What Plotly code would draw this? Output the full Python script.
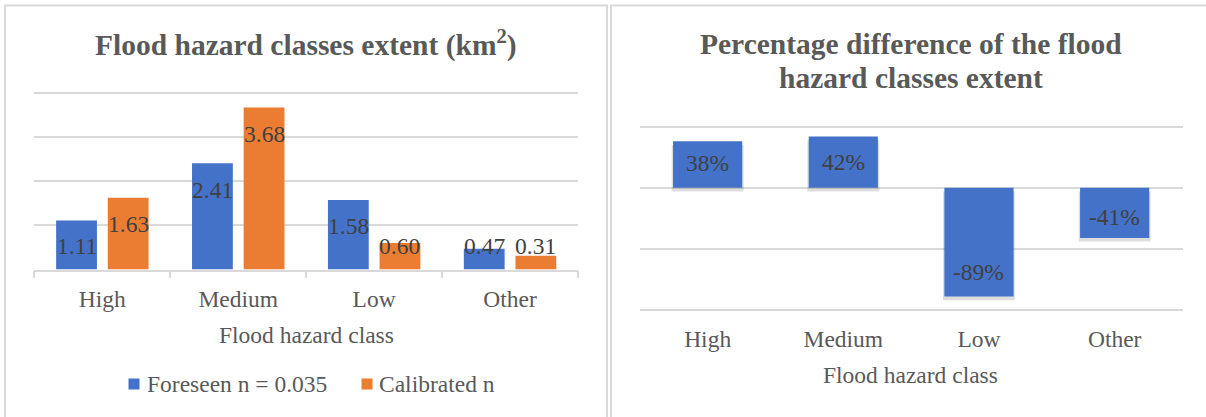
import plotly.graph_objects as go

# ---- data ----
classes = ["High", "Medium", "Low", "Other"]
foreseen = [1.11, 2.41, 1.58, 0.47]       # km², foreseen Manning n = 0.035
calibrated = [1.63, 3.68, 0.60, 0.31]     # km², calibrated Manning n
pct_diff = [0.38, 0.42, -0.89, -0.41]     # relative difference

series_names = ["Foreseen n = 0.035", "Calibrated n"]

# ---- style ----
W, H = 1206, 417
BLUE = "#4472c9"
ORANGE = "#eb7d33"
GRID = "#d9d9d9"
TXT = "#595959"
LBL = "#404040"
FONT = "Liberation Serif"
FS = 23.5          # body text size
FT = 29.5          # chart title size


def px_x(p):
    return p / W


def px_y(p):
    return 1 - p / H


fig = go.Figure()

# left chart: grouped bars
fig.add_trace(go.Bar(x=classes, y=foreseen, name=series_names[0],
                     marker=dict(color=BLUE, line=dict(width=0)),
                     offsetgroup="f", alignmentgroup="left",
                     xaxis="x", yaxis="y", hoverinfo="skip", showlegend=False))
fig.add_trace(go.Bar(x=classes, y=calibrated, name=series_names[1],
                     marker=dict(color=ORANGE, line=dict(width=0)),
                     offsetgroup="c", alignmentgroup="left",
                     xaxis="x", yaxis="y", hoverinfo="skip", showlegend=False))

# right chart: soft drop shadow, then the bars
fig.add_trace(go.Bar(x=classes, y=pct_diff, base=-0.03, width=0.53, offset=-0.265,
                     marker=dict(color="rgba(0,0,0,0.13)", line=dict(width=0)),
                     offsetgroup="d", alignmentgroup="right",
                     xaxis="x2", yaxis="y2", showlegend=False, hoverinfo="skip"))
fig.add_trace(go.Bar(x=classes, y=pct_diff, width=0.51, offset=-0.255,
                     marker=dict(color=BLUE, line=dict(width=0)),
                     offsetgroup="d", alignmentgroup="right",
                     xaxis="x2", yaxis="y2", showlegend=False, hoverinfo="skip"))

annotations = []

# value labels, placed just inside the bar ends
for i, (a, b) in enumerate(zip(foreseen, calibrated)):
    for dx, v in ((-0.19, a), (0.19, b)):
        annotations.append(dict(x=i + dx, y=max(v - 0.6, 0.53), xref="x", yref="y",
                                text=f"{v:.2f}", showarrow=False,
                                font=dict(size=FS, color=LBL, family=FONT),
                                xanchor="center", yanchor="middle"))
for i, v in enumerate(pct_diff):
    ly = max(v - 0.21, 0.2) if v >= 0 else min(v + 0.2, -0.24)
    annotations.append(dict(x=i, y=ly, xref="x2", yref="y2",
                            text=f"{v:.0%}", showarrow=False,
                            font=dict(size=FS, color=LBL, family=FONT),
                            xanchor="center", yanchor="middle"))

# chart titles
annotations.append(dict(x=px_x(306), y=px_y(43), xref="paper", yref="paper",
                        text="<b>Flood hazard classes extent (km<sup>2</sup>)</b>",
                        showarrow=False, font=dict(size=FT, color=TXT, family=FONT),
                        xanchor="center", yanchor="middle"))
annotations.append(dict(x=px_x(911), y=px_y(44), xref="paper", yref="paper",
                        text="<b>Percentage difference of the flood</b>",
                        showarrow=False, font=dict(size=FT, color=TXT, family=FONT),
                        xanchor="center", yanchor="middle"))
annotations.append(dict(x=px_x(911), y=px_y(78), xref="paper", yref="paper",
                        text="<b>hazard classes extent</b>",
                        showarrow=False, font=dict(size=FT, color=TXT, family=FONT),
                        xanchor="center", yanchor="middle"))

# axis titles
annotations.append(dict(x=px_x(306), y=px_y(335), xref="paper", yref="paper",
                        text="Flood hazard class", showarrow=False,
                        font=dict(size=FS, color=TXT, family=FONT),
                        xanchor="center", yanchor="middle"))
annotations.append(dict(x=px_x(911), y=px_y(375), xref="paper", yref="paper",
                        text="Flood hazard class", showarrow=False,
                        font=dict(size=FS, color=TXT, family=FONT),
                        xanchor="center", yanchor="middle"))

# legend of the left chart: colour swatch + series name
shapes = []
LEG_Y = 384
for (sx, tx, color, name) in ((134, 145, BLUE, series_names[0]),
                              (367, 377, ORANGE, series_names[1])):
    shapes.append(dict(type="rect", xref="paper", yref="paper",
                       x0=px_x(sx - 5.5), x1=px_x(sx + 5.5),
                       y0=px_y(LEG_Y + 5.5), y1=px_y(LEG_Y - 5.5),
                       line=dict(width=0), fillcolor=color))
    annotations.append(dict(x=px_x(tx), y=px_y(LEG_Y), xref="paper", yref="paper",
                            text=name, showarrow=False,
                            font=dict(size=FS, color=TXT, family=FONT),
                            xanchor="left", yanchor="middle"))

# panel frames
shapes += [
    dict(type="rect", xref="paper", yref="paper",
         x0=px_x(5), x1=px_x(607), y0=-0.05, y1=px_y(5.5),
         line=dict(color=GRID, width=2), fillcolor="rgba(0,0,0,0)", layer="below"),
    dict(type="rect", xref="paper", yref="paper",
         x0=px_x(611), x1=1.02, y0=-0.05, y1=px_y(5.5),
         line=dict(color=GRID, width=2), fillcolor="rgba(0,0,0,0)", layer="below"),
]

# value ranges padded a hair so the outermost gridlines are drawn
L_PAD, R_PAD = 0.045, 0.012
L_PX = 44.05       # px per km² on the left chart
R_PX = 122.2       # px per unit (100 %) on the right chart

fig.update_layout(
    width=W, height=H,
    margin=dict(l=0, r=0, t=0, b=0),
    paper_bgcolor="white", plot_bgcolor="white",
    font=dict(family=FONT, color=TXT),
    barmode="group", bargap=0.24, bargroupgap=0.21,
    showlegend=False,
    annotations=annotations,
    shapes=shapes,
    xaxis=dict(domain=[px_x(34.4), px_x(578)], anchor="y", type="category",
               showline=True, linecolor=GRID, linewidth=1.5,
               ticks="outside", tickson="boundaries", ticklen=7,
               tickcolor=GRID, tickwidth=1.5, ticklabelstandoff=8,
               tickfont=dict(size=FS, color=TXT, family=FONT),
               showgrid=False, fixedrange=True),
    yaxis=dict(domain=[px_y(269.5), px_y(93.3 - L_PAD * L_PX)], anchor="x",
               range=[0, 4 + L_PAD], tickmode="linear", tick0=0, dtick=1,
               showgrid=True, gridcolor=GRID, gridwidth=1.5,
               showticklabels=False, zeroline=False, showline=False, fixedrange=True),
    xaxis2=dict(domain=[px_x(639.8), px_x(1182.5)], anchor="y2", type="category",
                showline=False, ticks="", showgrid=False, ticklabelstandoff=11,
                tickfont=dict(size=FS, color=TXT, family=FONT), fixedrange=True),
    yaxis2=dict(domain=[px_y(310 + R_PAD * R_PX), px_y(126.7 - R_PAD * R_PX)], anchor="x2",
                range=[-1 - R_PAD, 0.5 + R_PAD], tickmode="linear", dtick=0.5, tick0=0,
                showgrid=True, gridcolor=GRID, gridwidth=1.5,
                showticklabels=False, zeroline=False, showline=False, fixedrange=True),
)

fig.write_html("out.html")
